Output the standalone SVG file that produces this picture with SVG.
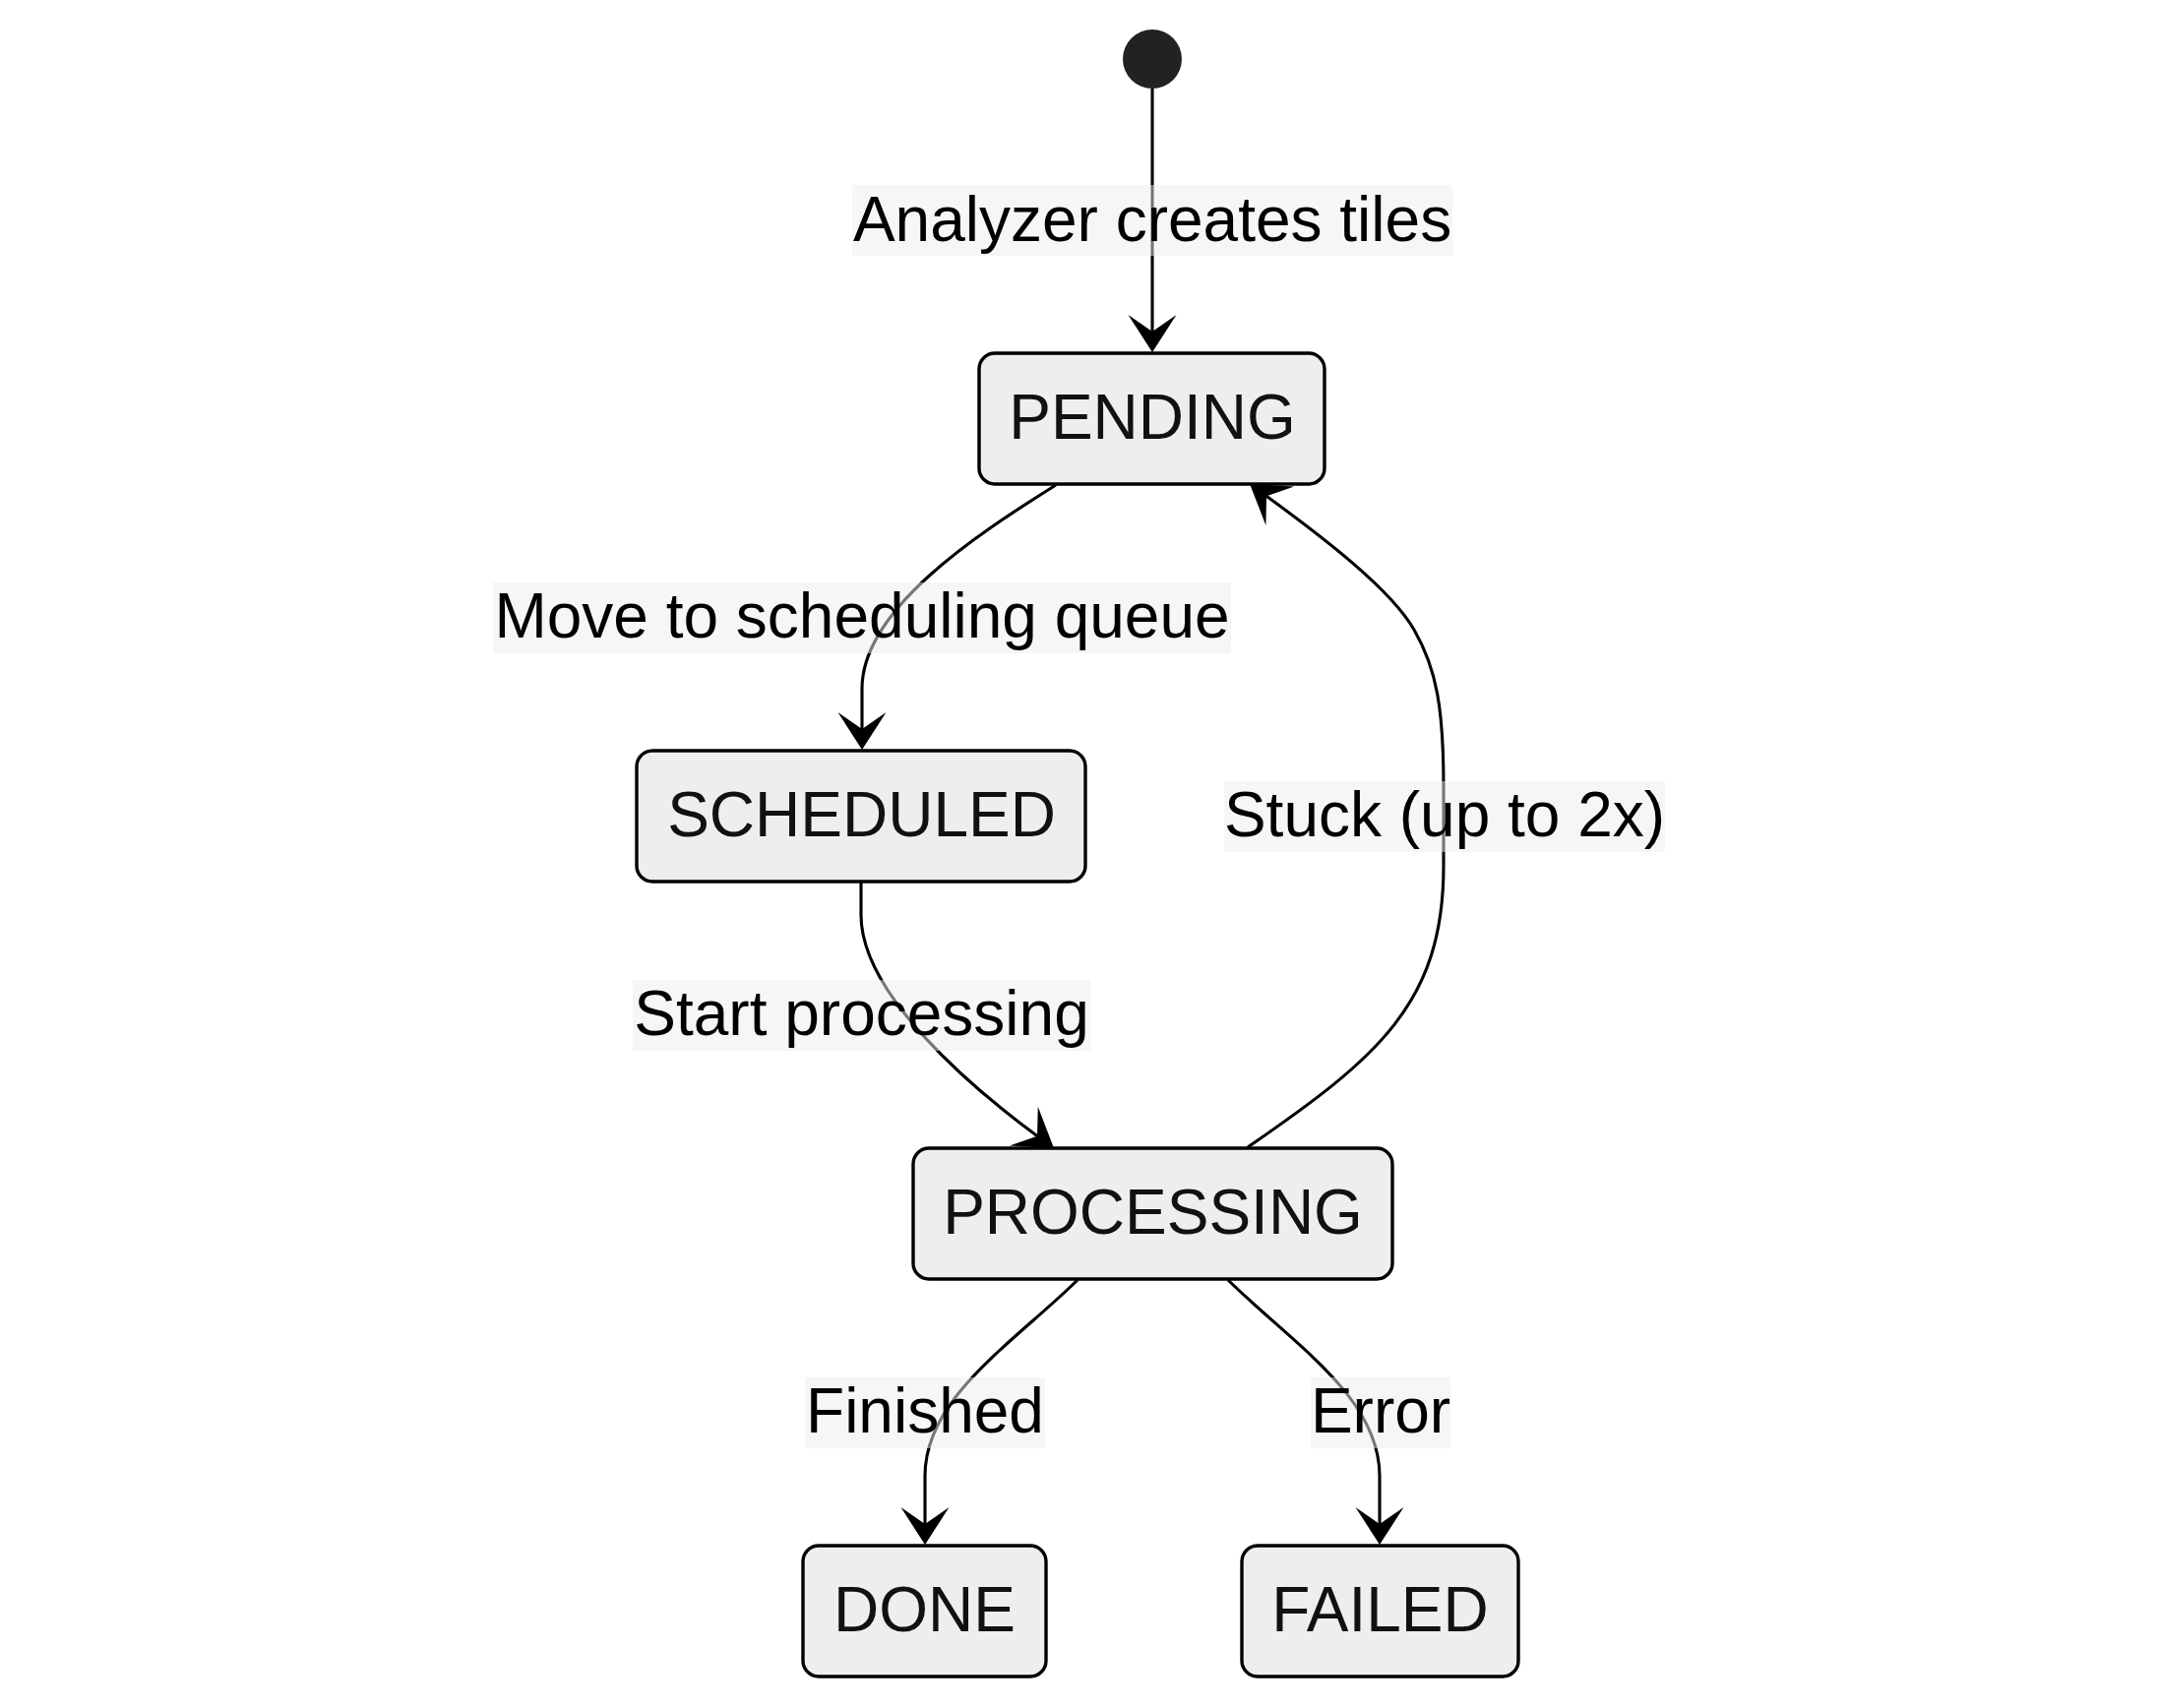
<svg xmlns="http://www.w3.org/2000/svg" width="2192" height="1736" viewBox="0 0 2192 1736">
  <style>
    .edge { fill: none; stroke: #000; stroke-width: 3.1; marker-end: url(#arrow); }
    .lbl-bg { fill: #ededed; fill-opacity: 0.5; }
    .lbl { font-family: "Liberation Sans", Arial, sans-serif; font-size: 64px; fill: #000; text-anchor: middle; }
    .node rect { fill: #eeeeee; stroke: #000; stroke-width: 3.4; }
    .node text { font-family: "Liberation Sans", Arial, sans-serif; font-size: 64px; fill: #111; text-anchor: middle; }
  </style>
  <defs>
    <marker id="arrow" markerUnits="userSpaceOnUse" viewBox="-40 -27 42 54" markerWidth="42" markerHeight="54" refX="-15" refY="0" orient="auto">
      <path d="M0,0 L-38,-24.5 L-21,0 L-38,24.5 Z" fill="#000"/>
    </marker>
  </defs>
  <rect width="2192" height="1736" fill="#fff"/>

  <g id="connectors">
    <path id="e-start-pending" class="edge" d="M1171,90 L1171,343"/>
    <path id="e-pending-scheduled" class="edge" d="M1073,493 C990,545 876,620 876,700 L876,747"/>
    <path id="e-scheduled-processing" class="edge" d="M875,896 L875,930 C875,1010 986,1105 1058.9,1158.2"/>
    <path id="e-processing-pending" class="edge" d="M1268,1166 C1400,1075 1467,1020 1467,880 L1467,800 C1467,720 1460,680 1437,640 S1350,550 1282.2,500.7"/>
    <path id="e-processing-done" class="edge" d="M1095,1301 C1030,1365 940,1420 940,1500 L940,1555"/>
    <path id="e-processing-failed" class="edge" d="M1248,1301 C1313,1365 1402,1420 1402,1500 L1402,1555"/>
  </g>

  <g id="edge-labels">
    <g id="l-analyzer">
      <rect class="lbl-bg" x="866" y="188" width="610" height="72"/>
      <text class="lbl" x="1171" y="244.5">Analyzer creates tiles</text>
    </g>
    <g id="l-move">
      <rect class="lbl-bg" x="501" y="592" width="750" height="72"/>
      <text class="lbl" x="876" y="648">Move to scheduling queue</text>
    </g>
    <g id="l-stuck">
      <rect class="lbl-bg" x="1244" y="794" width="448" height="72"/>
      <text class="lbl" x="1468" y="850">Stuck (up to 2x)</text>
    </g>
    <g id="l-start">
      <rect class="lbl-bg" x="643" y="996" width="465" height="72"/>
      <text class="lbl" x="875.5" y="1052">Start processing</text>
    </g>
    <g id="l-finished">
      <rect class="lbl-bg" x="818" y="1400" width="244" height="72"/>
      <text class="lbl" x="940" y="1456">Finished</text>
    </g>
    <g id="l-error">
      <rect class="lbl-bg" x="1332" y="1400" width="142" height="72"/>
      <text class="lbl" x="1403" y="1456">Error</text>
    </g>
  </g>

  <g id="start">
    <circle cx="1171" cy="60" r="30" fill="#222"/>
  </g>
  <g id="PENDING" class="node">
    <rect x="995" y="359" width="351" height="133" rx="16" ry="16"/>
    <text x="1171" y="446">PENDING</text>
  </g>
  <g id="SCHEDULED" class="node">
    <rect x="647" y="763" width="456" height="133" rx="16" ry="16"/>
    <text x="875.5" y="850">SCHEDULED</text>
  </g>
  <g id="PROCESSING" class="node">
    <rect x="928" y="1167" width="487" height="133" rx="16" ry="16"/>
    <text x="1171.5" y="1254">PROCESSING</text>
  </g>
  <g id="DONE" class="node">
    <rect x="816" y="1571" width="247" height="133" rx="16" ry="16"/>
    <text x="939.5" y="1658">DONE</text>
  </g>
  <g id="FAILED" class="node">
    <rect x="1262" y="1571" width="281" height="133" rx="16" ry="16"/>
    <text x="1402.5" y="1658">FAILED</text>
  </g>
</svg>
